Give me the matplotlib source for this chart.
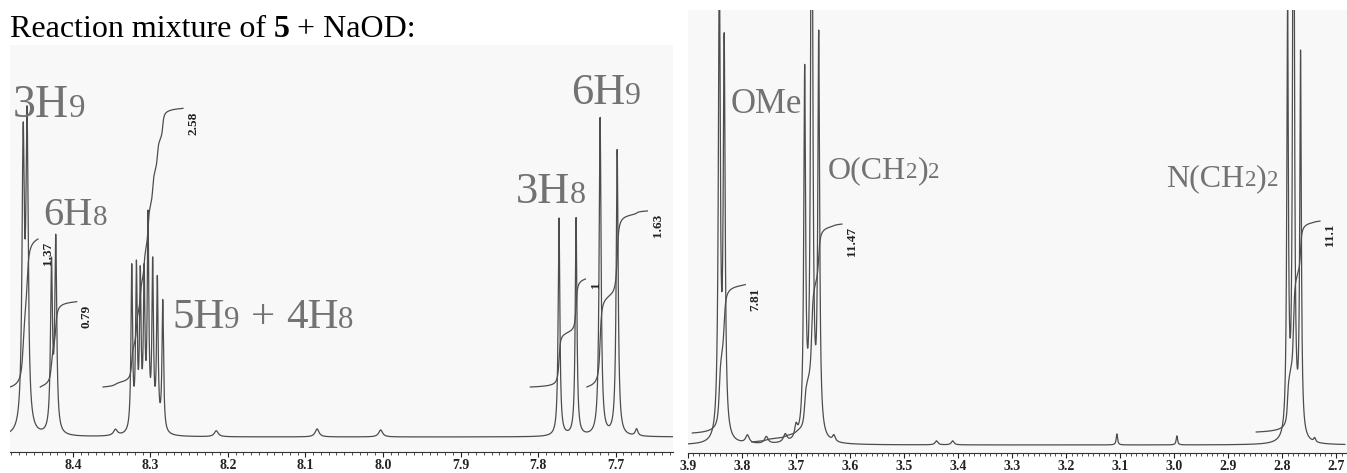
import re
import numpy as np
import matplotlib
matplotlib.use('Agg')
import matplotlib.pyplot as plt
from matplotlib.offsetbox import TextArea, HPacker, AnnotationBbox

plt.rcParams['font.family'] = ['Liberation Serif', 'DejaVu Serif']

# ---- left window (aromatic region), intensities in arbitrary units above baseline
left_pos = [8.464, 8.459, 8.4275, 8.422,
            8.324, 8.318, 8.313, 8.308, 8.303, 8.297, 8.291, 8.284,
            7.773, 7.751, 7.720, 7.698,
            8.345, 8.215, 8.085, 8.003, 7.673]
left_amp = [280, 298, 165, 190,
            163, 158, 148, 148, 207, 162, 148, 130,
            218, 218, 318, 286,
            6, 6, 8, 7, 7]
left_hw = [0.0018, 0.0018, 0.0015, 0.0015,
           0.0012, 0.0012, 0.0012, 0.0012, 0.0012, 0.0012, 0.0012, 0.0012,
           0.0013, 0.0013, 0.0015, 0.0015,
           0.003, 0.003, 0.003, 0.003, 0.002]

left_int_from = [8.481, 8.442, 8.361, 7.810, 7.737]
left_int_to = [8.445, 8.395, 8.258, 7.739, 7.659]
left_int_val = [1.37, 0.79, 2.58, 1.0, 1.63]

left_labels = ['3H_9', '6H_8', '5H_9 + 4H_8', '3H_8', '6H_9']
left_label_x = [8.477, 8.438, 8.272, 7.829, 7.758]
left_label_y = [310, 203, 100, 225, 324]
left_label_size = [33, 29, 31, 32, 32]
left_ticks = [8.4, 8.3, 8.2, 8.1, 8.0, 7.9, 7.8, 7.7]

# ---- right window (aliphatic region)
right_pos = [3.842, 3.833,
             3.684, 3.671, 3.658,
             2.790, 2.779, 2.766,
             3.79, 3.755, 3.72, 3.70, 3.63, 3.44, 3.41, 3.106, 2.995, 2.74]
right_amp = [470, 388,
             360, 760, 395,
             430, 800, 380,
             8, 7, 8, 12, 6, 4, 4, 11, 9, 4]
right_hw = [0.0021, 0.0021,
            0.002, 0.002, 0.002,
            0.0017, 0.0017, 0.0017,
            0.004, 0.004, 0.004, 0.003, 0.003, 0.003, 0.003, 0.0015, 0.0015, 0.002]

right_int_from = [3.892, 3.782, 2.848]
right_int_to = [3.794, 3.615, 2.730]
right_int_val = [7.81, 11.47, 11.1]
right_int_base = [12, 3, 13]

right_labels = ['OMe', 'O(CH_2)_2', 'N(CH_2)_2']
right_label_x = [3.822, 3.641, 3.014]
right_label_y = [324, 260, 252]
right_label_size = [25, 23, 23]
right_ticks = [3.9, 3.8, 3.7, 3.6, 3.5, 3.4, 3.3, 3.2, 3.1, 3.0, 2.9, 2.8, 2.7]

line_c = '#4d4d4d'
label_c = '#727272'


def spectrum(x, pos, amp, hw):
    p = np.asarray(pos)[:, None]
    a = np.asarray(amp)[:, None]
    w = np.asarray(hw)[:, None]
    return (a * w ** 2 / ((x[None, :] - p) ** 2 + w ** 2)).sum(axis=0)


def label(ax, text, x, y, size, color=label_c):
    words = []
    for word in text.split(' '):
        parts = []
        for piece in re.split(r'(_.)', word):
            if not piece:
                continue
            if piece.startswith('_'):
                parts.append(TextArea(piece[1], textprops=dict(fontsize=size * 0.72, color=color)))
            else:
                parts.append(TextArea(piece, textprops=dict(fontsize=size, color=color)))
        words.append(HPacker(children=parts, align='baseline', pad=0, sep=0))
    pack = HPacker(children=words, align='baseline', pad=0, sep=size * 0.25)
    ab = AnnotationBbox(pack, (x, y), xycoords='data', box_alignment=(0, 0),
                        frameon=False, pad=0, annotation_clip=False)
    ax.add_artist(ab)


def panel(ax, lim, pos, amp, hw, ticks):
    x = np.linspace(lim[0], lim[1], 8000)
    ax.plot(x, spectrum(x, pos, amp, hw), color=line_c, lw=0.9)
    ax.set_xlim(lim)
    ax.set_facecolor('#f8f8f8')
    for s in ['left', 'right', 'top']:
        ax.spines[s].set_visible(False)
    ax.spines['bottom'].set_color('#333333')
    ax.spines['bottom'].set_linewidth(0.8)
    ax.set_yticks([])
    ax.set_xticks(ticks, labels=['%.1f' % t for t in ticks], fontweight='bold')
    ax.set_xticks(np.round(np.arange(lim[1], lim[0], 0.01), 2), minor=True)
    ax.tick_params(axis='x', which='major', length=3.5, width=0.8, labelsize=10,
                   pad=1.5, colors='#222222')
    ax.tick_params(axis='x', which='minor', length=2.2, width=0.6, colors='#333333')


def integrals(ax, pos, amp, hw, starts, ends, vals, bases, scale):
    for f, t, v, b in zip(starts, ends, vals, bases):
        xs = np.linspace(f, t, 500)
        ys = spectrum(xs, pos, amp, hw)
        cum = np.concatenate([[0], np.cumsum((ys[1:] + ys[:-1]) / 2)])
        curve = b + v * scale * cum / cum[-1]
        ax.plot(xs, curve, color=line_c, lw=0.9)
        ax.annotate('%g' % v, xy=(t, curve[-1]), xytext=(3, -2), textcoords='offset points',
                    rotation=90, ha='left', va='top', fontsize=9.5, fontweight='bold',
                    color='#222222')


W, H = 1347, 473
fig = plt.figure(figsize=(W / 100, H / 100), dpi=100)

axL = fig.add_axes([10 / W, (H - 452) / H, 663 / W, 407 / H])
panel(axL, (8.481, 7.626), left_pos, left_amp, left_hw, left_ticks)
axL.set_ylim(-15, 392)
integrals(axL, left_pos, left_amp, left_hw, left_int_from, left_int_to, left_int_val,
          [50] * len(left_int_val), 108)
for t, x, y, s in zip(left_labels, left_label_x, left_label_y, left_label_size):
    label(axL, t, x, y, s)

axR = fig.add_axes([688 / W, (H - 453) / H, 659 / W, 443 / H])
panel(axR, (3.900, 2.684), right_pos, right_amp, right_hw, right_ticks)
axR.set_ylim(-8, 435)
integrals(axR, right_pos, right_amp, right_hw, right_int_from, right_int_to, right_int_val,
          right_int_base, 19)
for t, x, y, s in zip(right_labels, right_label_x, right_label_y, right_label_size):
    label(axR, t, x, y, s)

# heading
title = HPacker(children=[TextArea('Reaction mixture of', textprops=dict(fontsize=23, color='black')),
                          TextArea('5', textprops=dict(fontsize=23, color='black', fontweight='bold')),
                          TextArea('+ NaOD:', textprops=dict(fontsize=23, color='black'))],
                align='baseline', pad=0, sep=5.5)
fig.add_artist(AnnotationBbox(title, (10, H - 44), xycoords='figure pixels', box_alignment=(0, 0),
                              frameon=False, pad=0, annotation_clip=False))

fig.savefig('out.png', dpi=100, facecolor='white')
